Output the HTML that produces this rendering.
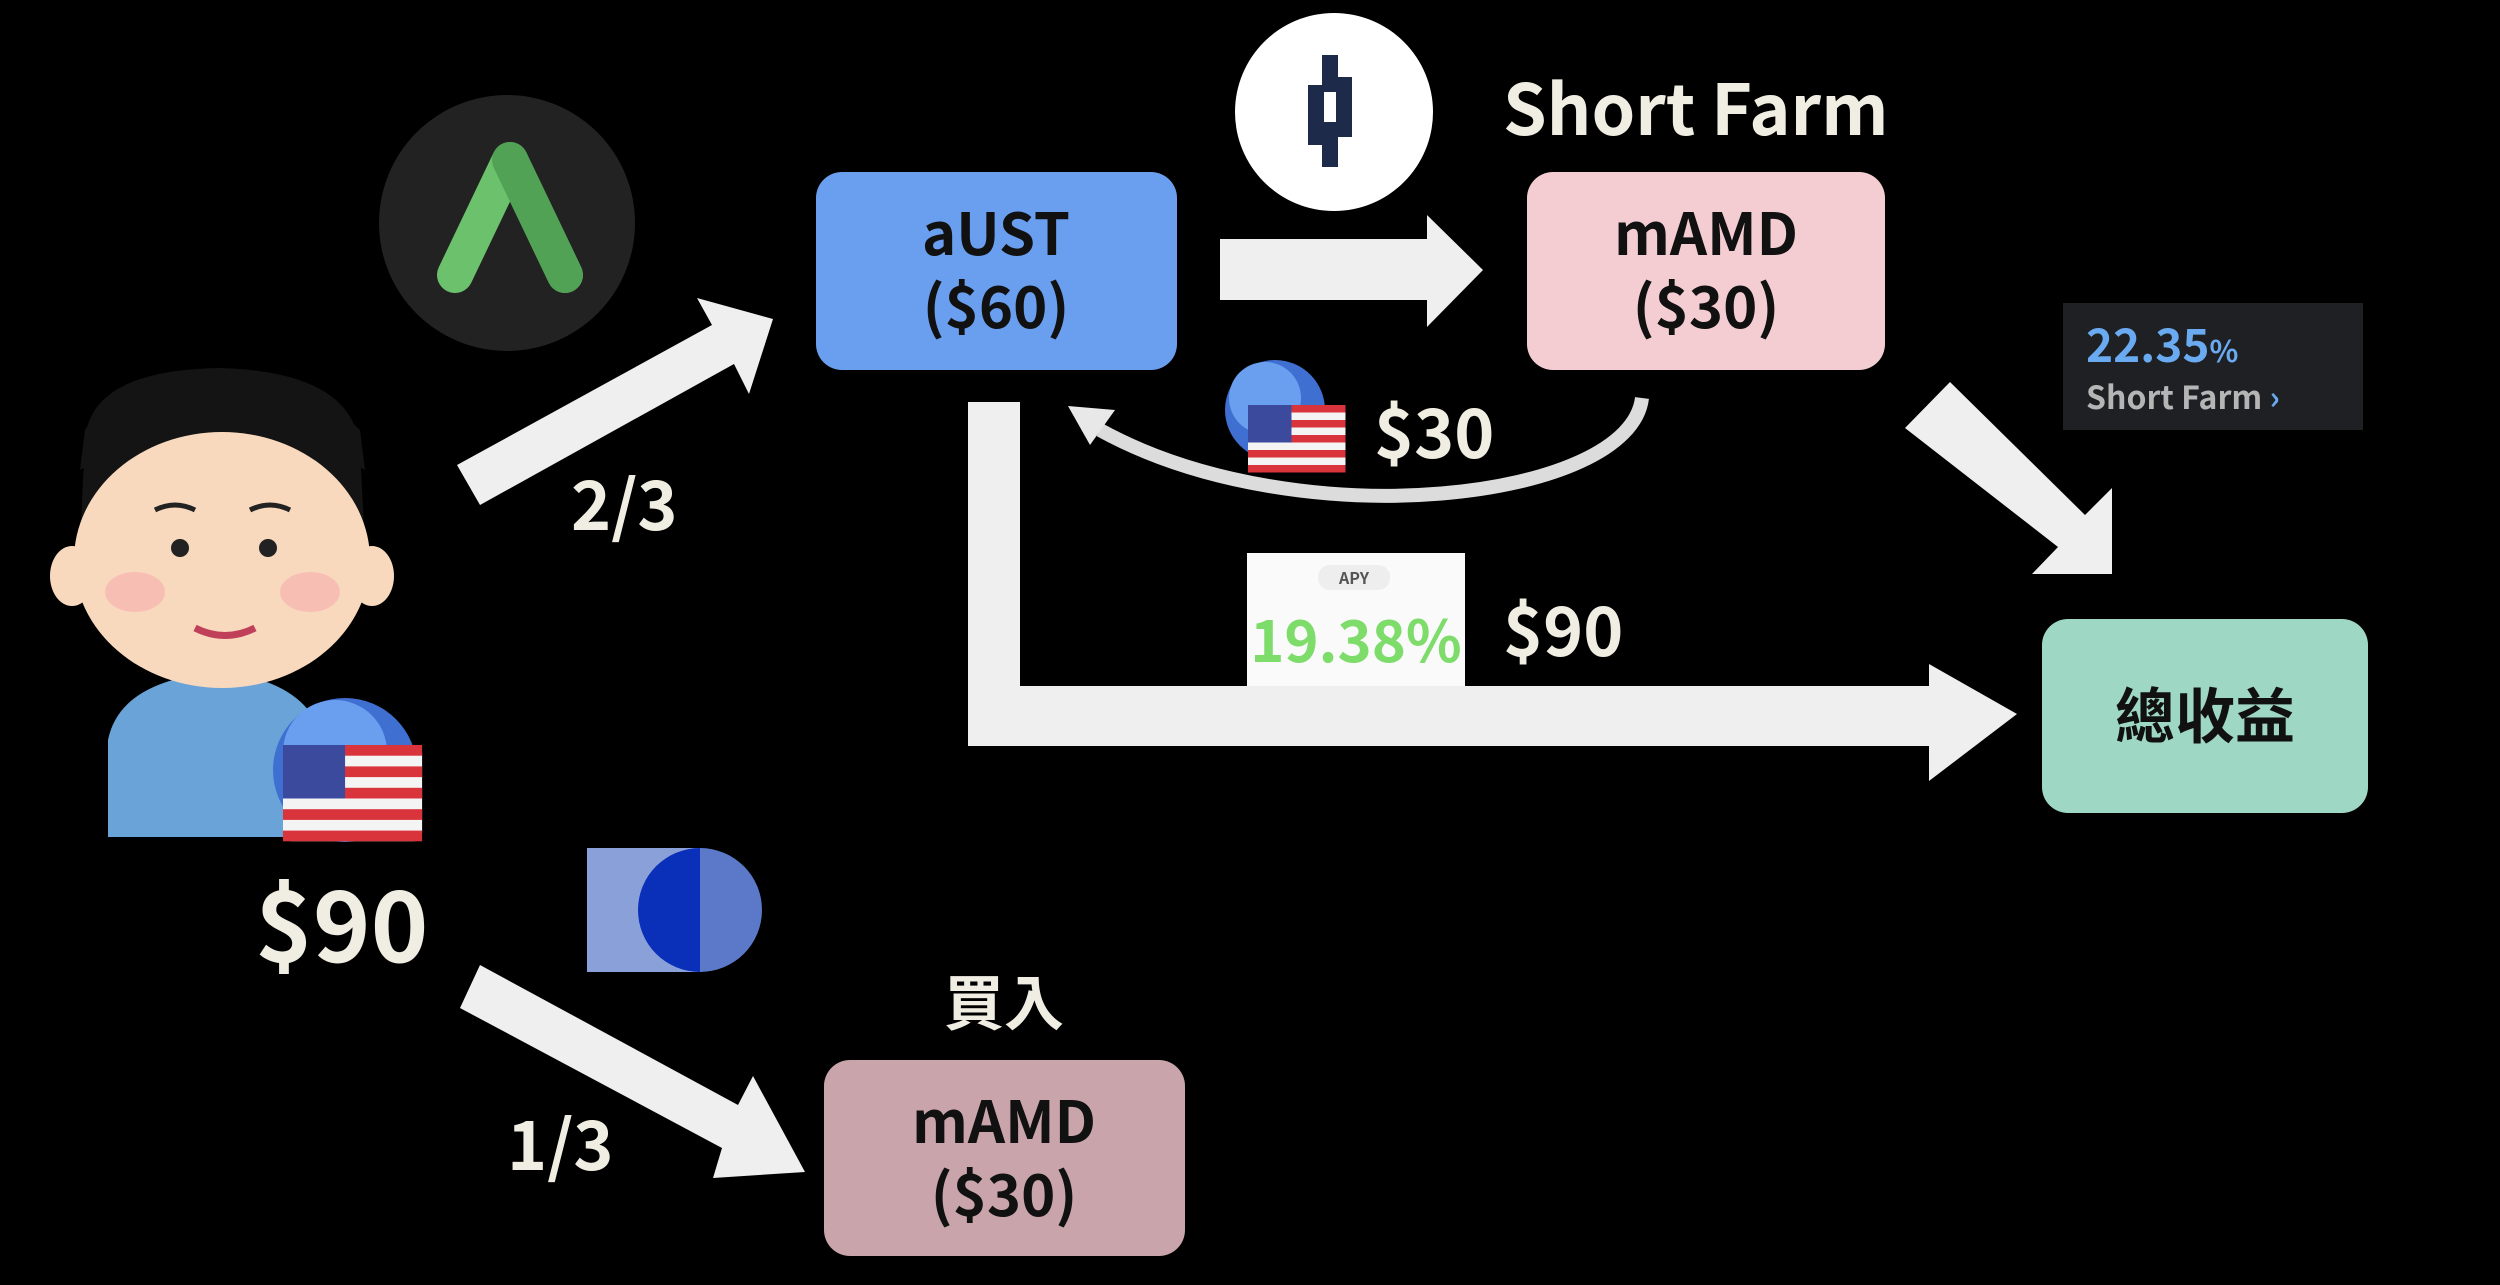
<!DOCTYPE html>
<html><head><meta charset="utf-8"><style>
html,body{margin:0;padding:0;background:#000;}
svg{display:block}
text{font-family:"Noto Sans CJK TC","Liberation Sans",sans-serif;font-weight:700}
</style></head><body>
<svg width="2500" height="1285" viewBox="0 0 2500 1285" xmlns="http://www.w3.org/2000/svg">
<rect width="2500" height="1285" fill="#000"/>
<defs>
<g id="flag">
 <rect x="0" y="0" width="130" height="90" rx="8" fill="#f4f4f4"/>
 <g fill="#d9343c">
  <rect x="0" y="0" width="130" height="10"/><rect x="0" y="20" width="130" height="10"/><rect x="0" y="40" width="130" height="10"/><rect x="0" y="60" width="130" height="10"/><rect x="0" y="80" width="130" height="10"/>
 </g>
 <rect x="0" y="0" width="58" height="50" fill="#3b4a9c"/>
</g>
</defs>

<!-- Anchor logo -->
<circle cx="507" cy="223" r="128" fill="#222"/>
<path d="M455 275 L510 160 L565 275" stroke="#6cc26c" stroke-width="36" stroke-linecap="round" stroke-linejoin="round" fill="none"/>
<path d="M510 160 L565 275" stroke="#4b9a50" stroke-width="36" stroke-linecap="round" fill="none" opacity="0.8"/>

<!-- Mirror logo -->
<circle cx="1334" cy="112" r="99" fill="#fff"/>
<path d="M1322 55 h16 v22 h14 v60 h-14 v30 h-16 v-22 h-14 v-60 h14z" fill="#1e2a4a"/>
<rect x="1324" y="92" width="12" height="30" fill="#fff"/>

<text x="1503" y="135" font-size="70" fill="#f0eee2">Short Farm</text>

<!-- boxes -->
<rect x="816" y="172" width="361" height="198" rx="26" fill="#6a9ff0"/>
<text x="996" y="255" font-size="58" fill="#111" text-anchor="middle" font-weight="500">aUST</text>
<text x="996" y="328" font-size="58" fill="#111" text-anchor="middle" font-weight="500">($60)</text>

<rect x="1527" y="172" width="358" height="198" rx="26" fill="#f4cdd3"/>
<text x="1706" y="255" font-size="58" fill="#111" text-anchor="middle" font-weight="500">mAMD</text>
<text x="1706" y="328" font-size="58" fill="#111" text-anchor="middle" font-weight="500">($30)</text>

<rect x="2042" y="619" width="326" height="194" rx="26" fill="#9ed8c4"/>
<text x="2205" y="738" font-size="60" fill="#111" text-anchor="middle">總收益</text>

<rect x="824" y="1060" width="361" height="196" rx="26" fill="#c9a5ab"/>
<text x="1004" y="1143" font-size="58" fill="#111" text-anchor="middle" font-weight="500">mAMD</text>
<text x="1004" y="1216" font-size="58" fill="#111" text-anchor="middle" font-weight="500">($30)</text>
<text x="1004" y="1025" font-size="60" fill="#f0eee2" text-anchor="middle">買入</text>

<!-- arrows -->
<g fill="#efefef">
 <polygon points="457,465 712,325 697,298 773,319 749,394 734,364 480,505"/>
 <polygon points="480,965 738,1105 753,1076 805,1172 713,1178 722,1148 460,1008"/>
 <polygon points="1220,239 1427,239 1427,215 1483,270 1427,327 1427,300 1220,300"/>
 <polygon points="968,402 1020,402 1020,686 1929,686 1929,664 2017,714 1929,781 1929,746 968,746"/>
 <polygon points="1905,428 1950,382 2085,515 2112,488 2112,574 2032,574 2058,547 1905,428"/>
</g>
<path d="M1642,398 C1630,500 1300,540 1100,430" stroke="#dcdcdc" stroke-width="14" fill="none"/>
<polygon points="1068,406 1115,410 1090,445" fill="#e8e8e8"/>

<!-- helmet + flag middle -->
<circle cx="1275" cy="410" r="50" fill="#3f6fd0"/>
<circle cx="1265" cy="398" r="36" fill="#6a9ff0"/>
<g transform="translate(1248 405) scale(0.75)"><use href="#flag"/></g>
<text x="1374" y="458" font-size="68" fill="#f0eee2">$30</text>

<!-- APY -->
<rect x="1247" y="553" width="218" height="133" fill="#fafafa"/>
<rect x="1318" y="565" width="72" height="25" rx="12" fill="#eee"/>
<text x="1354" y="584" font-size="16" fill="#555" text-anchor="middle" font-weight="400">APY</text>
<text x="1356" y="662" font-size="58" fill="#7ddc6a" text-anchor="middle" font-weight="500">19.38%</text>
<text x="1503" y="656" font-size="68" fill="#f0eee2">$90</text>

<!-- 22.35% box -->
<rect x="2063" y="303" width="300" height="127" fill="#1e2024"/>
<text x="2086" y="362" font-size="46" fill="#6aaaf0" font-weight="400">22.35<tspan font-size="30">%</tspan></text>
<text x="2086" y="409" font-size="32" fill="#b5b5b5" font-weight="400">Short Farm <tspan fill="#6aaaf0" font-weight="700">›</tspan></text>

<text x="571" y="530" font-size="68" fill="#f0eee2">2/3</text>
<text x="507" y="1170" font-size="68" fill="#f0eee2">1/3</text>

<!-- person -->
<path d="M108 837 L108 740 Q120 680 220 672 Q300 680 320 730 L320 837Z" fill="#6aa3d8"/>
<path d="M85 440 Q90 370 220 368 Q355 372 360 450 L365 545 L80 545Z" fill="#141414"/>
<ellipse cx="222" cy="560" rx="148" ry="128" fill="#f9d9bd"/>
<ellipse cx="72" cy="576" rx="22" ry="30" fill="#f9d9bd"/>
<ellipse cx="372" cy="576" rx="22" ry="30" fill="#f9d9bd"/>
<path d="M80 470 Q220 380 365 470 L360 430 Q300 370 220 370 Q120 372 85 430Z" fill="#141414"/>
<circle cx="180" cy="548" r="9" fill="#222"/>
<circle cx="268" cy="548" r="9" fill="#222"/>
<path d="M155 510 q20 -10 40 0 M250 510 q20 -10 40 0" stroke="#222" stroke-width="5" fill="none"/>
<ellipse cx="135" cy="592" rx="30" ry="20" fill="#f6b2b0" opacity="0.7"/>
<ellipse cx="310" cy="592" rx="30" ry="20" fill="#f6b2b0" opacity="0.7"/>
<path d="M195 628 q30 15 60 0" stroke="#c0405a" stroke-width="7" fill="none"/>
<circle cx="345" cy="770" r="72" fill="#3f6fd0"/>
<circle cx="335" cy="752" r="52" fill="#6a9ff0"/>
<g transform="translate(283 745) scale(1.07)"><use href="#flag"/></g>
<text x="255" y="962" font-size="98" fill="#f0eee2">$90</text>

<!-- blue square logo -->
<rect x="587" y="848" width="115" height="124" fill="#8aa0d8"/>
<path d="M700 848 A62 62 0 0 1 700 972Z" fill="#5b79c8"/>
<path d="M700 848 A62 62 0 0 0 700 972Z" fill="#0a2fb8"/>
</svg>
</body></html>
